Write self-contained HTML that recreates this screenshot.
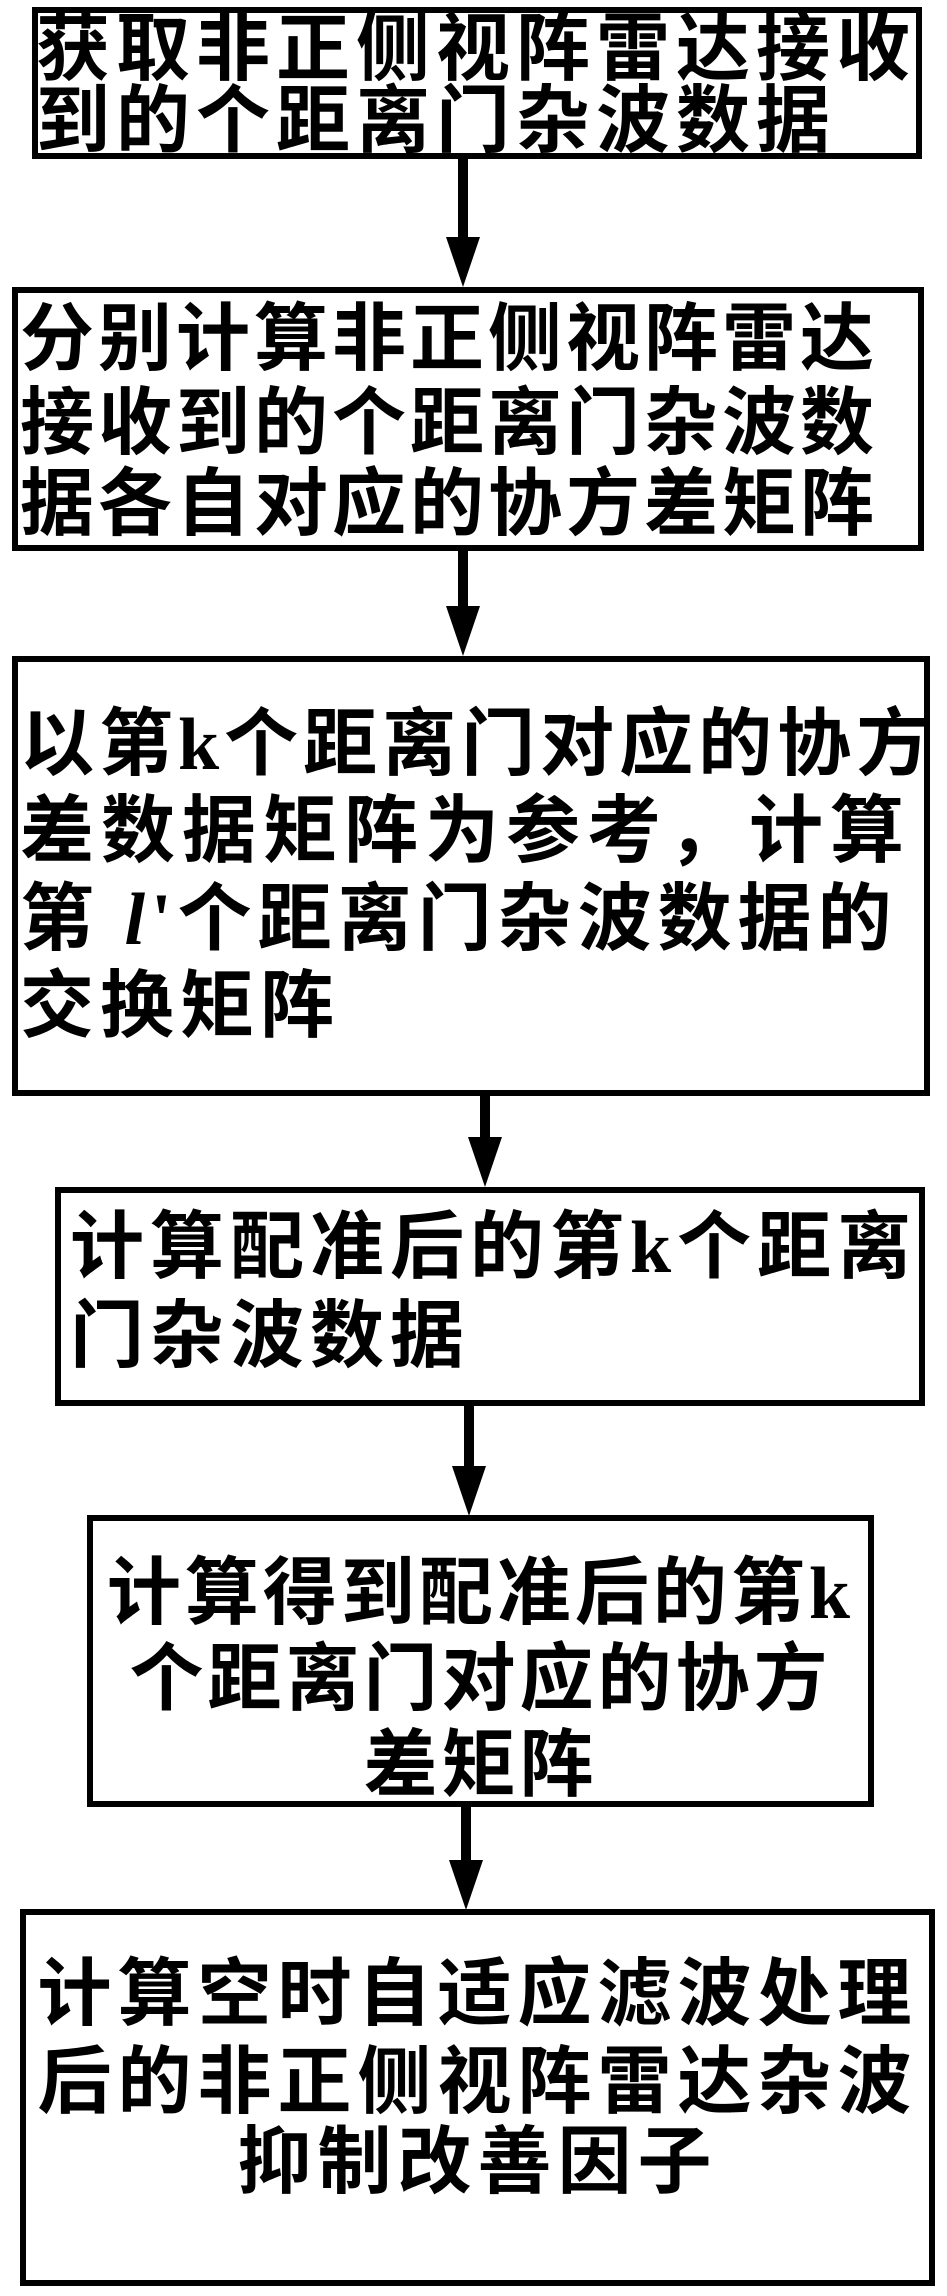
<!DOCTYPE html>
<html><head><meta charset="utf-8"><style>
html,body{margin:0;padding:0;background:#fff}
body{width:947px;height:2296px;position:relative;overflow:hidden}
.b{position:absolute;border:6px solid #000;box-sizing:border-box}
.t{position:absolute;white-space:nowrap;font-family:"Liberation Serif","Noto Sans CJK SC",sans-serif;font-weight:700;font-size:74px;line-height:84px;color:#000}
.c{text-align:center;left:0;right:0}
.l{position:absolute;width:10px;background:#000}
.h{position:absolute;width:0;height:0;border-left:17px solid transparent;border-right:17px solid transparent;border-top:50px solid #000}
</style></head><body>
<div class="b" style="left:32px;top:7px;width:890px;height:152px"></div>
<div class="t" style="left:36px;top:8px;letter-spacing:6px">获取非正侧视阵雷达接收</div>
<div class="t" style="left:36px;top:80px;letter-spacing:6px">到的个距离门杂波数据</div>

<div class="l" style="left:458px;top:158px;height:86px"></div>
<div class="h" style="left:446px;top:237px"></div>

<div class="b" style="left:12px;top:287px;width:912px;height:264px"></div>
<div class="t" style="left:20px;top:298px;letter-spacing:4px">分别计算非正侧视阵雷达</div>
<div class="t" style="left:20px;top:382px;letter-spacing:4px">接收到的个距离门杂波数</div>
<div class="t" style="left:20px;top:463px;letter-spacing:4px">据各自对应的协方差矩阵</div>

<div class="l" style="left:458px;top:551px;height:60px"></div>
<div class="h" style="left:446px;top:606px"></div>

<div class="b" style="left:12px;top:656px;width:918px;height:440px"></div>
<div class="t" style="left:20px;top:703px;letter-spacing:5px">以第k个距离门对应的协方</div>
<div class="t" style="left:20px;top:790px;letter-spacing:7px">差数据矩阵为参考，计算</div>
<div class="t" style="left:20px;top:878px;letter-spacing:6px">第 <i>l</i>'个距离门杂波数据的</div>
<div class="t" style="left:20px;top:965px;letter-spacing:6px">交换矩阵</div>

<div class="l" style="left:480px;top:1096px;height:50px"></div>
<div class="h" style="left:468px;top:1137px"></div>

<div class="b" style="left:55px;top:1187px;width:870px;height:219px"></div>
<div class="t" style="left:70px;top:1206px;letter-spacing:6px">计算配准后的第k个距离</div>
<div class="t" style="left:70px;top:1295px;letter-spacing:6px">门杂波数据</div>

<div class="l" style="left:464px;top:1406px;height:65px"></div>
<div class="h" style="left:452px;top:1466px"></div>

<div class="b" style="left:87px;top:1515px;width:787px;height:292px"></div>
<div class="t c" style="left:87px;width:787px;top:1552px;letter-spacing:4px">计算得到配准后的第k</div>
<div class="t c" style="left:87px;width:787px;top:1638px;letter-spacing:4px">个距离门对应的协方</div>
<div class="t c" style="left:87px;width:787px;top:1724px;letter-spacing:4px">差矩阵</div>

<div class="l" style="left:461px;top:1806px;height:60px"></div>
<div class="h" style="left:449px;top:1860px"></div>

<div class="b" style="left:20px;top:1909px;width:915px;height:377px"></div>
<div class="t c" style="left:20px;width:915px;top:1953px;letter-spacing:6px">计算空时自适应滤波处理</div>
<div class="t c" style="left:20px;width:915px;top:2041px;letter-spacing:6px">后的非正侧视阵雷达杂波</div>
<div class="t c" style="left:20px;width:915px;top:2121px;letter-spacing:6px">抑制改善因子</div>
</body></html>
